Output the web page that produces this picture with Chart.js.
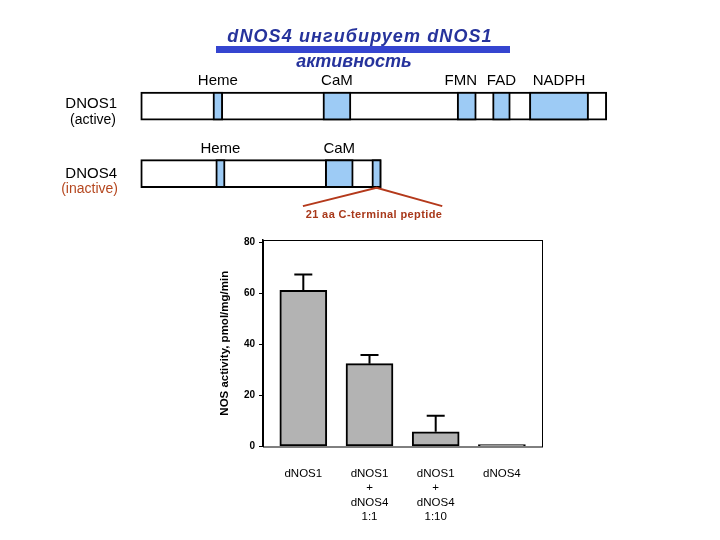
<!DOCTYPE html>
<html>
<head>
<meta charset="utf-8">
<script src="https://cdn.jsdelivr.net/npm/chart.js@4.4.0/dist/chart.umd.min.js"></script>
<style>
  body { margin: 0; background: #fff; }
  #page { position: relative; width: 720px; height: 540px; overflow: hidden; font-family: 'Liberation Sans', Arial, sans-serif; }
  #page canvas { position: absolute; left: 0; top: 0; }
  .txt { position: absolute; white-space: nowrap; line-height: 1; }
  .mid { transform: translateX(-50%); }
  .title { font-size: 18px; font-weight: bold; font-style: italic; color: #26339c; }
  .row { font-size: 15px; color: #000; text-align: right; }
  .sub { font-size: 14px; text-align: right; }
</style>
</head>
<body>
<div id="page">
  <canvas id="domains" width="720" height="230"></canvas>
  <canvas id="activity" width="720" height="540"></canvas>

  <div class="txt mid title" style="left:360px; top:26.8px; letter-spacing:1.1px;">dNOS4 ингибирует dNOS1</div>
  <div style="position:absolute; left:216px; top:46px; width:294px; height:7px; background:#3545d0;"></div>
  <div class="txt mid title" style="left:354px; top:52px;">активность</div>

  <div class="txt row" style="right:603px; top:95.3px;">DNOS1</div>
  <div class="txt sub" style="right:604px; top:111.6px; color:#000;">(active)</div>
  <div class="txt row" style="right:603px; top:164.6px;">DNOS4</div>
  <div class="txt sub" style="right:602px; top:180.6px; color:#b5471f;">(inactive)</div>

  <div class="txt mid" style="left:374px; top:208.7px; font-size:11px; font-weight:bold; letter-spacing:0.4px; color:#a8381a;">21 aa C-terminal peptide</div>
</div>

<script>
// ---- domain map (arbitrary units, dNOS1 length = 1000) ----
const proteinRows = [1, 2];
const proteinSpans = [[0, 1000], [0, 516]];
const dnos1Domains = ['Heme', 'CaM', 'FMN', 'FAD', 'NADPH'];
const dnos1Spans = [[155, 176], [391, 451], [679, 720], [755, 793], [834, 961]];
const dnos4Domains = ['Heme', 'CaM', ''];
const dnos4Spans = [[161, 181], [396, 456], [496, 516]];

// ---- NOS activity ----
const groups = [['dNOS1'], ['dNOS1', '+', 'dNOS4', '1:1'], ['dNOS1', '+', 'dNOS4', '1:10'], ['dNOS4']];
const activity = [61.3, 32.5, 5.8, 0.8];
const activityErr = [6.2, 3.4, 6.3, 0];
const yTicks = [0, 20, 40, 60, 80];

const FONT = "'Liberation Sans', Arial, sans-serif";

// labels above domains + the callout to the C-terminal peptide
const domainLabels = {
    id: 'domainLabels',
    afterDatasetsDraw(chart) {
        const ctx = chart.ctx;
        const xs = chart.scales.x, ys = chart.scales.y;
        ctx.save();
        ctx.font = '15px ' + FONT;
        ctx.fillStyle = '#000';
        ctx.textAlign = 'center';
        ctx.textBaseline = 'alphabetic';
        [[dnos1Domains, dnos1Spans, 1], [dnos4Domains, dnos4Spans, 2]].forEach(([names, spans, row]) => {
            const top = ys.getPixelForValue(row) - 14;
            names.forEach((name, i) => {
                if (!name) return;
                let cx = xs.getPixelForValue((spans[i][0] + spans[i][1]) / 2);
                if (name === 'FMN') cx -= 6;  // label sits a bit left of its box in the original
                ctx.fillText(name, cx, top - 7);
            });
        });
        // callout lines from the last dNOS4 segment
        const pep = dnos4Spans[dnos4Spans.length - 1];
        const ax = xs.getPixelForValue((pep[0] + pep[1]) / 2);
        const ay = ys.getPixelForValue(2) + 14;
        ctx.strokeStyle = '#b4391b';
        ctx.lineWidth = 2;
        ctx.beginPath();
        ctx.moveTo(xs.getPixelForValue(348), ys.getPixelForValue(2.48));
        ctx.lineTo(ax, ay);
        ctx.lineTo(xs.getPixelForValue(647), ys.getPixelForValue(2.48));
        ctx.stroke();
        ctx.restore();
    }
};

new Chart(document.getElementById('domains'), {
    type: 'bar',
    data: {
        datasets: [
            {
                order: 0,
                grouped: false,
                data: dnos1Spans.map(s => ({ x: s, y: 1 })).concat(dnos4Spans.map(s => ({ x: s, y: 2 }))),
                backgroundColor: '#9dcbf5',
                borderColor: '#000',
                borderWidth: 2,
                borderSkipped: false
            },
            {
                order: 1,
                grouped: false,
                data: proteinSpans.map((s, i) => ({ x: s, y: proteinRows[i] })),
                backgroundColor: '#fff',
                borderColor: '#000',
                borderWidth: 2,
                borderSkipped: false
            }
        ]
    },
    options: {
        indexAxis: 'y',
        responsive: false,
        animation: false,
        categoryPercentage: 1,
        barPercentage: 1,
        maxBarThickness: 28,
        layout: { padding: 0 },
        plugins: { legend: { display: false }, tooltip: { enabled: false } },
        scales: {
            x: { type: 'linear', display: false, offset: false, min: -302, max: 1243 },
            y: {
                type: 'linear', display: false, offset: false, reverse: true, min: -0.573, max: 2.834,
                afterBuildTicks: s => { s.ticks = proteinRows.map(v => ({ value: v })); }
            }
        }
    },
    plugins: [domainLabels]
});

// frame round the plot area
const plotFrame = {
    id: 'plotFrame',
    afterDraw(chart) {
        const { left, right, top, bottom } = chart.chartArea;
        const ctx = chart.ctx;
        ctx.save();
        ctx.strokeStyle = '#000';
        ctx.lineWidth = 1;
        ctx.strokeRect(left + 0.5, top + 0.5, right - left - 1, bottom - top);
        ctx.restore();
    }
};

// one-sided error bars (upwards, with a cap)
const errorBars = {
    id: 'errorBars',
    afterDatasetsDraw(chart) {
        const ctx = chart.ctx;
        const xs = chart.scales.x, ys = chart.scales.y;
        ctx.save();
        ctx.strokeStyle = '#000';
        ctx.lineWidth = 2;
        activity.forEach((v, i) => {
            if (!activityErr[i]) return;
            const x = xs.getPixelForValue(i + 1);
            const y0 = ys.getPixelForValue(v);
            const y1 = ys.getPixelForValue(v + activityErr[i]);
            ctx.beginPath();
            ctx.moveTo(x, y0);
            ctx.lineTo(x, y1);
            ctx.moveTo(x - 9, y1);
            ctx.lineTo(x + 9, y1);
            ctx.stroke();
        });
        ctx.restore();
    }
};

new Chart(document.getElementById('activity'), {
    type: 'bar',
    data: {
        datasets: [{
            data: activity.map((v, i) => ({ x: i + 1, y: v })),
            backgroundColor: '#b3b3b3',
            borderColor: '#000',
            borderWidth: 2,
            borderSkipped: false,
            barThickness: 47
        }]
    },
    options: {
        responsive: false,
        animation: false,
        layout: { padding: { left: 200, right: 177, top: 240, bottom: 0 } },
        plugins: { legend: { display: false }, tooltip: { enabled: false } },
        scales: {
            x: {
                type: 'linear',
                offset: false,
                min: 0.391,
                max: 4.621,
                afterBuildTicks: s => { s.ticks = groups.map((g, i) => ({ value: i + 1 })); },
                afterFit: s => { s.height = 93.5; },
                grid: { display: false, drawTicks: false, offset: false },
                border: { display: false },
                ticks: {
                    autoSkip: false,
                    maxRotation: 0,
                    padding: 20,
                    color: '#000',
                    font: { family: FONT, size: 11.5, lineHeight: 1.26 },
                    callback: (v, i) => groups[i]
                }
            },
            y: {
                min: 0,
                max: 81,
                afterBuildTicks: s => { s.ticks = yTicks.map(v => ({ value: v })); },
                afterFit: s => { s.width = 63; },
                grid: { drawOnChartArea: false, tickLength: 4, color: '#000', lineWidth: 1 },
                border: { color: '#000', width: 1.5 },
                ticks: {
                    padding: 4,
                    color: '#000',
                    font: { family: FONT, size: 10, weight: 'bold' }
                },
                title: {
                    display: true,
                    text: 'NOS activity, pmol/mg/min',
                    color: '#000',
                    font: { family: FONT, size: 11.5, weight: 'bold' },
                    padding: { top: 18, bottom: 0 }
                }
            }
        }
    },
    plugins: [errorBars, plotFrame]
});
</script>
</body>
</html>
